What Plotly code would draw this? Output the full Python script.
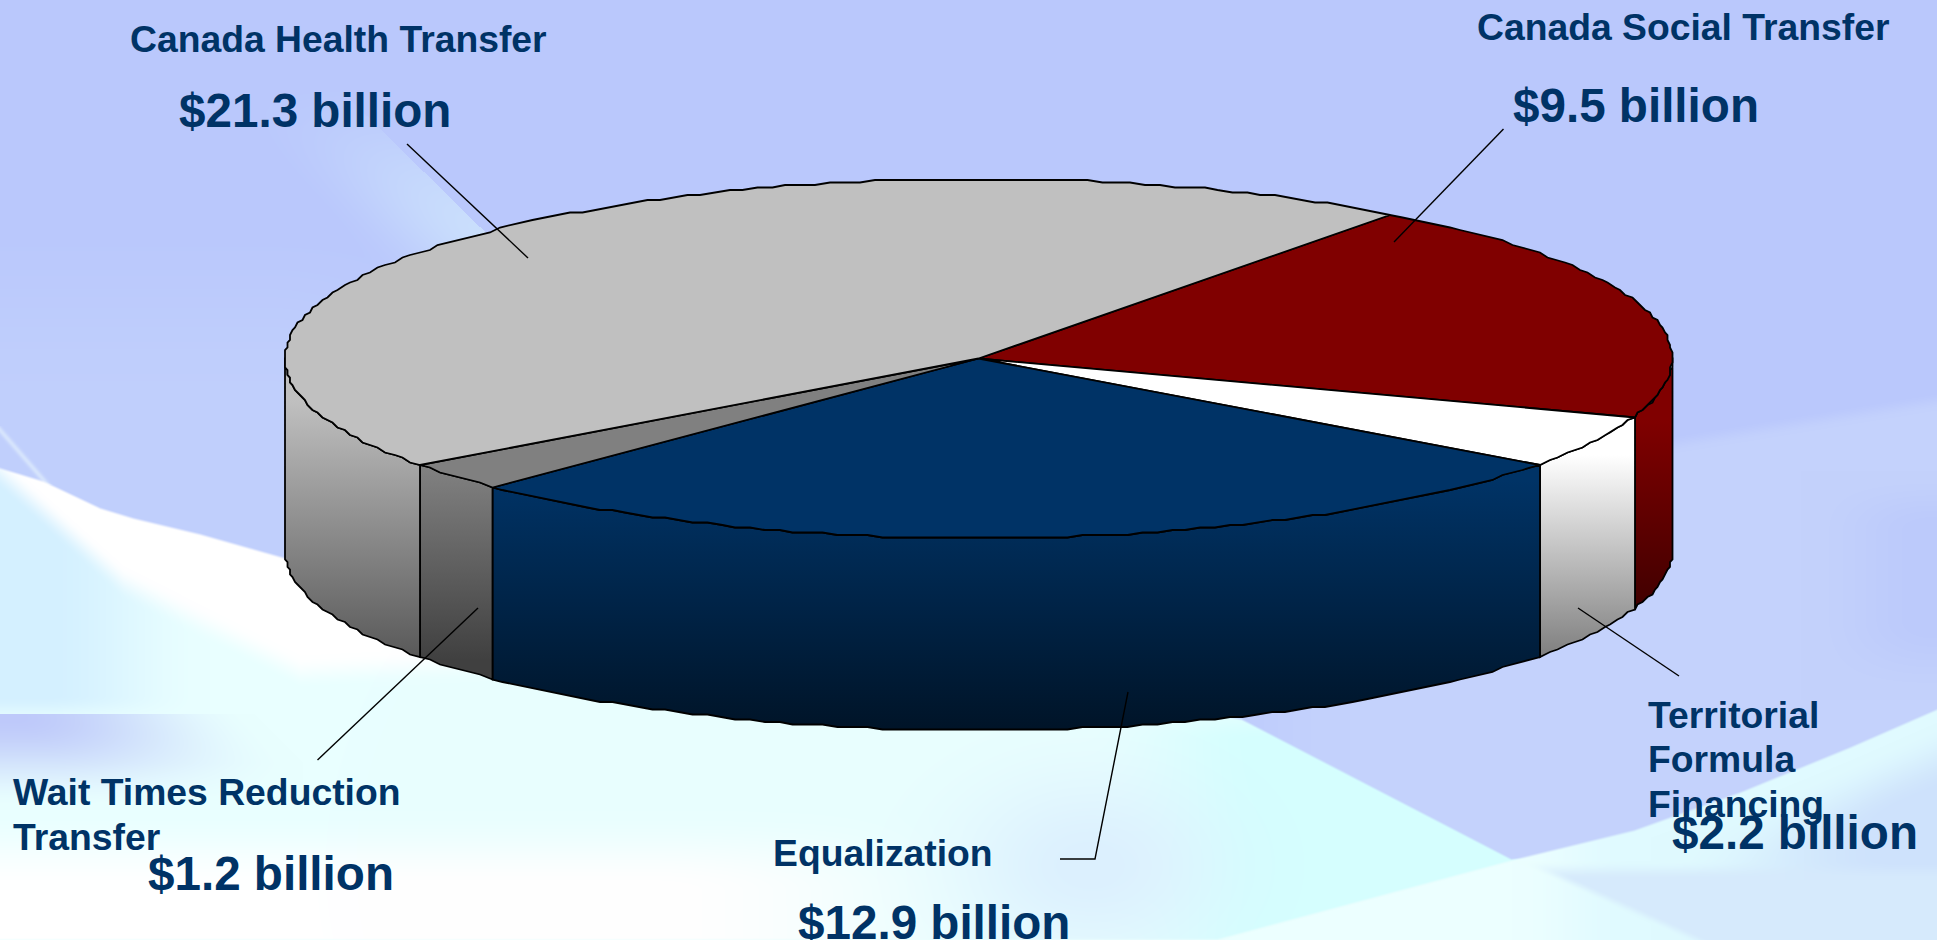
import base64
import struct
import zlib

import numpy as np
import plotly.graph_objects as go

# Federal transfers, in billions of dollars, in clockwise slice order
categories = ["Canada Social Transfer", "Territorial Formula Financing", "Equalization",
              "Wait Times Reduction Transfer", "Canada Health Transfer"]
values = [9.5, 2.2, 12.9, 1.2, 21.3]

top_colors = ["#800000", "#ffffff", "#003366", "#808080", "#c0c0c0"]
wall_gradients = [
    ("#800000", "#400000", 420, 610),
    ("#ffffff", "#808080", 455, 655),
    ("#003366", "#001428", 480, 729),
    ("#808080", "#404040", 470, 660),
    ("#c0c0c0", "#505050", 400, 680),
]

W, H = 1937, 940
CX, CY, RX, RY, DEPTH = 978.5, 358.5, 693.5, 179.5, 192
START_DEG = 53.5
RIM_GRID = 2.5
INK = "#003366"


def smooth(t):
    t = np.clip(t, 0, 1)
    return t * t * (3 - 2 * t)


def paint(img, color, mask):
    return img + (np.array(color, float) - img) * mask[..., None]


def wash():
    """Soft lavender slide backdrop with pale cyan swooshes across the lower half."""
    yy, xx = np.mgrid[0:H, 0:W].astype(float)
    img = np.ones((H, W, 3)) * np.array([186, 200, 252], float)

    # faint light wash on the left and the light streak above the pie
    img = paint(img, (193, 208, 253), smooth((yy - 200) / 200) * smooth((520 - xx) / 250) * 0.9)
    right_edge = 310 + (yy - 60) * 1.018
    streak = (xx < right_edge) * smooth((xx - right_edge + 150) / 150) * smooth((yy - 70) / 170)
    img = paint(img, (203, 224, 253), streak * 0.95)

    # paler sheet on the right side
    sheet_top = np.interp(xx, [1600, 1937], [445, 390])
    img = paint(img, (196, 210, 252), smooth((yy - sheet_top) / 20) * smooth((xx - 1150) / 200))
    img = paint(img, (188, 202, 251), smooth((xx - 1800) / 130) * smooth((yy - 470) / 60) * smooth((700 - yy) / 80))

    # thin streak above the swoosh at the far left
    streak_x = (yy - 430) * 0.87
    img = paint(img, (214, 228, 253), np.exp(-((xx - streak_x) / 3.5) ** 2) * (yy > 425) * (yy < 485))

    # main swoosh falling from the left edge to the lower right
    swoosh_top = np.interp(xx, [0, 43, 100, 133, 200, 285, 700, 1241, 1511],
                           [467, 480, 507, 517, 533, 557, 620, 718, 858])
    swoosh = smooth((yy - swoosh_top + 1) / 4) * (xx < 1700)
    base = np.ones((H, W, 3)) * np.array([233, 255, 255], float)
    base = paint(base, (213, 255, 255), smooth((xx - 1080) / 180) * smooth((yy - 700) / 40))
    # pale blue veil along the left margin
    base = paint(base, (212, 240, 255), smooth((210 - xx) / 170) * smooth((725 - yy) / 30))
    # white core just under the swoosh edge
    white_low = np.interp(xx, [0, 123, 300, 700, 1100], [490, 600, 690, 670, 700])
    base = paint(base, (255, 255, 255), smooth((white_low - yy) / 35))
    # blue patch with a crisp top along the left margin
    patch_right = np.interp(yy, [713, 763], [254, 303])
    patch = (yy > 713) * (xx < patch_right) * smooth((patch_right - xx) / 250) * smooth((810 - yy) / 95)
    base = paint(base, (190, 201, 250), patch)
    # white fading in towards the bottom
    base = paint(base, (255, 255, 255), smooth((yy - 810) / 80) * smooth((1050 - xx) / 400))
    # cooler, faintly textured patch under the centre
    dx, dy = (xx - 1090) / 130, (yy - 865) / 90
    base = paint(base, (220, 240, 254), np.exp(-(dx * dx + dy * dy)))
    img = img + (base - img) * swoosh[..., None]

    # second band rising to the right edge, split by two folds
    band_top = np.interp(xx, [1217, 1511, 1634, 1740, 1850, 1937], [937, 858, 828, 790, 745, 707])
    band = smooth((yy - band_top) / 4)
    col = np.ones((H, W, 3)) * np.array([236, 255, 255], float)
    col = paint(col, (224, 250, 255), smooth((xx - 1511) / 120))
    col = paint(col, (206, 226, 252), smooth((xx - 1650) / 250) * smooth((yy - band_top - 15) / 70))
    fold_x = 1511 + (yy - 860) * 2.2
    col = paint(col, (214, 234, 252), smooth((xx - fold_x) / 25) * smooth((yy - 860) / 20))
    img = img + (col - img) * band[..., None]

    return np.clip(img, 0, 255).astype(np.uint8)


def png_uri(arr):
    h, w, _ = arr.shape
    raw = b"".join(b"\x00" + arr[r].tobytes() for r in range(h))

    def chunk(tag, data):
        return struct.pack(">I", len(data)) + tag + data + struct.pack(">I", zlib.crc32(tag + data))

    blob = (b"\x89PNG\r\n\x1a\n" + chunk(b"IHDR", struct.pack(">IIBBBBB", w, h, 8, 2, 0, 0, 0))
            + chunk(b"IDAT", zlib.compress(raw, 9)) + chunk(b"IEND", b""))
    return "data:image/png;base64," + base64.b64encode(blob).decode()


def rim(a0, a1, drop=0.0):
    # the rim is a fine polygon snapped to a small grid, which gives its slightly rippled outline
    steps = max(2, int(abs(a1 - a0) / 1.25) + 1)
    th = np.radians(np.linspace(a0, a1, steps))
    x = np.round((CX + RX * np.cos(th)) / RIM_GRID) * RIM_GRID
    y = np.round((CY - RY * np.sin(th)) / RIM_GRID) * RIM_GRID
    return x, y + drop


# slice boundaries follow the values, running clockwise from the start angle
sweeps = np.array(values) / sum(values) * 360
ends = START_DEG - np.cumsum(sweeps)
starts = ends + sweeps

fig = go.Figure()
OUTLINE = dict(color="#000000", width=1.8)

# side walls: only the part of the rim on the front half is visible
for name, a0, a1, (c0, c1, g0, g1) in zip(categories, starts, ends, wall_gradients):
    hi, lo = min(a0, 0.0), max(a1, -180.0)
    if hi <= lo:
        continue
    xt, yt = rim(hi, lo)
    xb, yb = rim(lo, hi, DEPTH)
    fig.add_trace(go.Scatter(
        x=np.r_[xt, xb, xt[0]], y=np.r_[yt, yb, yt[0]], mode="lines", fill="toself",
        line=OUTLINE, name=name, showlegend=False, hoverinfo="skip",
        fillgradient=dict(type="vertical", colorscale=[[0, c0], [1, c1]], start=g0, stop=g1),
    ))

# top face of the pie
for name, a0, a1, color in zip(categories, starts, ends, top_colors):
    xr, yr = rim(a0, a1)
    fig.add_trace(go.Scatter(
        x=np.r_[CX, xr, CX], y=np.r_[CY, yr, CY], mode="lines", fill="toself",
        fillcolor=color, line=OUTLINE, name=name, showlegend=False, hoverinfo="skip",
    ))

# leader lines from each slice towards its caption
leaders = [
    [(407, 144), (528, 258)],
    [(1503.5, 129), (1394, 242)],
    [(478, 608), (317.5, 760)],
    [(1128, 692), (1095, 859), (1060, 859)],
    [(1578, 608), (1679, 676)],
]
for pts in leaders:
    path = "M " + " L ".join(f"{x} {y}" for x, y in pts)
    fig.add_shape(type="path", path=path, xref="x", yref="y",
                  line=dict(color="#000000", width=1.4))

# captions: (text, left, middle, font size)
captions = [
    ("Canada Health Transfer", 129, 39, 37.3),
    ("$21.3 billion", 178, 110, 47.6),
    ("Canada Social Transfer", 1476, 27, 37.3),
    ("$9.5 billion", 1512, 105, 47.6),
    ("Wait Times Reduction", 12, 792, 37.3),
    ("Transfer", 12, 837, 37.3),
    ("$1.2 billion", 147, 873, 47.6),
    ("Equalization", 772, 853, 37.3),
    ("$12.9 billion", 797, 922, 47.6),
    ("Territorial", 1647, 715, 37.3),
    ("Formula", 1647, 759, 37.3),
    ("Financing", 1647, 804, 37.3),
    ("$2.2 billion", 1671, 832, 47.6),
]
for text, x, y, size in captions:
    fig.add_annotation(x=x, y=y, xref="x", yref="y", text=f"<b>{text}</b>", showarrow=False,
                       xanchor="left", yanchor="middle", borderpad=0,
                       font=dict(family="Liberation Sans", size=size, color=INK))

fig.update_layout(
    width=W, height=H, margin=dict(l=0, r=0, t=0, b=0), autosize=False,
    paper_bgcolor="#bac8fc", plot_bgcolor="rgba(0,0,0,0)", showlegend=False,
    xaxis=dict(range=[0, W], visible=False, fixedrange=True),
    yaxis=dict(range=[H, 0], visible=False, fixedrange=True),
    images=[dict(source=png_uri(wash()), xref="paper", yref="paper", x=0, y=1, sizex=1, sizey=1,
                 xanchor="left", yanchor="top", sizing="stretch", layer="below")],
)

fig.write_html("out.html", config={"displayModeBar": False})
